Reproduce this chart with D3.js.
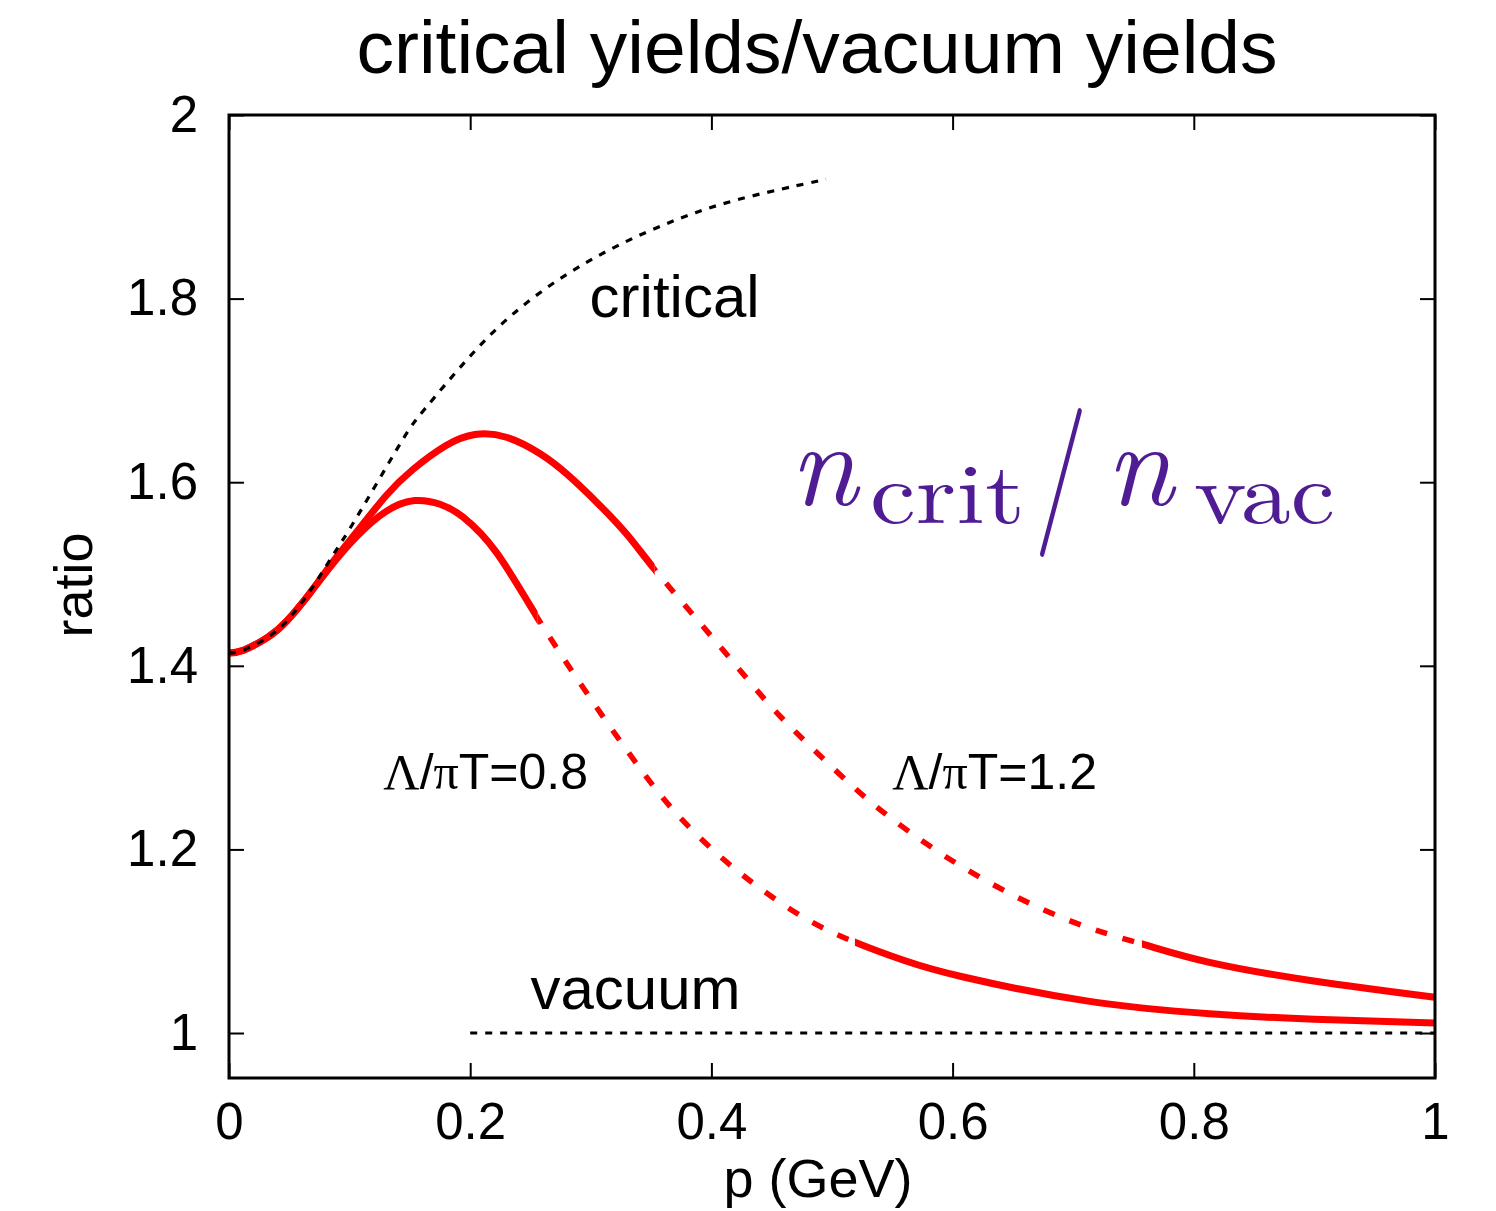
<!DOCTYPE html>
<html>
<head>
<meta charset="utf-8">
<script src="https://cdn.jsdelivr.net/npm/d3@7"></script>
<style>
  body { margin: 0; background: #fff; }
  text { font-family: "Liberation Sans", Arial, sans-serif; fill: #000; }
</style>
</head>
<body>
<div id="chart"></div>
<script>
// ticks
const xTicks = [0, 0.2, 0.4, 0.6, 0.8, 1];
const yTicks = [1, 1.2, 1.4, 1.6, 1.8, 2];

// critical yields (black dotted)
const criticalP = [0, 0.012, 0.032, 0.048, 0.067, 0.086, 0.106, 0.142, 0.1625, 0.197, 0.2344, 0.2772, 0.3228, 0.3712, 0.4196, 0.4707, 0.495];
const criticalRatio = [1.414, 1.417, 1.431, 1.449, 1.481, 1.52, 1.562, 1.642, 1.68, 1.733, 1.782, 1.824, 1.858, 1.886, 1.907, 1.923, 1.93];

// vacuum reference
const vacuumP = [0.2, 1];
const vacuumRatio = [1, 1];

// Lambda/piT = 0.8
const lam08P = [0, 0.012, 0.032, 0.048, 0.067, 0.086, 0.106, 0.13, 0.154, 0.175, 0.194, 0.222, 0.256, 0.301, 0.341, 0.371, 0.405, 0.44, 0.479, 0.519, 0.56, 0.609, 0.711, 0.813, 0.9, 1];
const lam08Ratio = [1.414, 1.417, 1.431, 1.449, 1.479, 1.511, 1.541, 1.568, 1.58, 1.576, 1.562, 1.523, 1.452, 1.362, 1.288, 1.239, 1.195, 1.158, 1.124, 1.099, 1.079, 1.061, 1.035, 1.021, 1.015, 1.011];
const lam08Dashed = [0.256, 0.519];

// Lambda/piT = 1.2
const lam12P = [0, 0.012, 0.032, 0.048, 0.067, 0.086, 0.106, 0.13, 0.1526, 0.18, 0.204, 0.23, 0.258, 0.28, 0.305, 0.33, 0.353, 0.389, 0.42, 0.45, 0.483, 0.517, 0.552, 0.613, 0.692, 0.757, 0.813, 0.898, 1];
const lam12Ratio = [1.414, 1.417, 1.431, 1.449, 1.479, 1.513, 1.546, 1.585, 1.614, 1.64, 1.652, 1.649, 1.631, 1.609, 1.578, 1.543, 1.505, 1.449, 1.401, 1.355, 1.311, 1.269, 1.231, 1.177, 1.125, 1.097, 1.077, 1.057, 1.039];
const lam12Dashed = [0.353, 0.757];

const W = 1496, H = 1211;
const margin = { top: 115, right: 61, bottom: 133, left: 229 };
const width = W - margin.left - margin.right,
  height = H - margin.top - margin.bottom;

const svg = d3
  .select("#chart")
  .append("svg")
  .attr("width", W)
  .attr("height", H);

const g = svg.append("g").attr("transform", `translate(${margin.left},${margin.top})`);

const x = d3.scaleLinear().domain([0, 1]).range([0, width]);
const y = d3.scaleLinear().domain([0.951, 2]).range([height, 0]);

// axes (ticks pointing inward)
const fmt = (d) => (d === 0 || d === 1 || d === 2 ? d3.format("d")(d) : d3.format(".1f")(d));
const axBottom = g.append("g").attr("transform", `translate(0,${height})`)
  .call(d3.axisBottom(x).tickValues(xTicks).tickFormat(fmt).tickSizeInner(-15).tickSizeOuter(0).tickPadding(25));
const axLeft = g.append("g")
  .call(d3.axisLeft(y).tickValues(yTicks).tickFormat(fmt).tickSizeInner(-15).tickSizeOuter(0).tickPadding(31));
const axTop = g.append("g")
  .call(d3.axisTop(x).tickValues(xTicks).tickFormat("").tickSizeInner(-15).tickSizeOuter(0));
const axRight = g.append("g").attr("transform", `translate(${width},0)`)
  .call(d3.axisRight(y).tickValues(yTicks).tickFormat("").tickSizeInner(-15).tickSizeOuter(0));

[axBottom, axLeft, axTop, axRight].forEach((a) => {
  a.select(".domain").remove();
  a.selectAll("line").attr("stroke", "#000").attr("stroke-width", 2);
  a.selectAll("text").style("font-size", "51px").attr("fill", "#000");
});

const line = d3.line()
  .x((d) => x(d.p))
  .y((d) => y(d.r))
  .curve(d3.curveNatural);

const toPoints = (ps, rs) => ps.map((p, i) => ({ p: p, r: rs[i] }));

// red curves: solid - dashed - solid, one path clipped into pieces
const defs = svg.append("defs");
const drawRed = (id, ps, rs, dashed) => {
  const d = line(toPoints(ps, rs));
  const a = x(dashed[0]), b = x(dashed[1]);
  const solidClip = defs.append("clipPath").attr("id", id + "-solid");
  solidClip.append("rect").attr("x", -20).attr("y", -50).attr("width", a + 20).attr("height", height + 100);
  solidClip.append("rect").attr("x", b).attr("y", -50).attr("width", width - b + 20).attr("height", height + 100);
  defs.append("clipPath").attr("id", id + "-dash")
    .append("rect").attr("x", a).attr("y", -50).attr("width", b - a).attr("height", height + 100);

  g.append("path").attr("d", d).attr("clip-path", `url(#${id}-solid)`)
    .attr("fill", "none").attr("stroke", "#ff0000").attr("stroke-width", 7);
  g.append("path").attr("d", d).attr("clip-path", `url(#${id}-dash)`)
    .attr("fill", "none").attr("stroke", "#ff0000").attr("stroke-width", 5.5)
    .attr("stroke-dasharray", "12 16");
};
drawRed("lam08", lam08P, lam08Ratio, lam08Dashed);
drawRed("lam12", lam12P, lam12Ratio, lam12Dashed);

// critical & vacuum (drawn over the red lines)
g.append("path")
  .attr("d", line(toPoints(criticalP, criticalRatio)))
  .attr("fill", "none").attr("stroke", "#000").attr("stroke-width", 3.2)
  .attr("stroke-dasharray", "7 8");
g.append("path")
  .attr("d", line(toPoints(vacuumP, vacuumRatio)))
  .attr("fill", "none").attr("stroke", "#000").attr("stroke-width", 3.2)
  .attr("stroke-dasharray", "7 8");

// frame
g.append("rect").attr("x", 0).attr("y", 0).attr("width", width).attr("height", height)
  .attr("fill", "none").attr("stroke", "#000").attr("stroke-width", 3);

// labels
svg.append("text").attr("x", 817).attr("y", 73).attr("text-anchor", "middle")
  .style("font-size", "75px").text("critical yields/vacuum yields");
svg.append("text").attr("transform", "translate(92,585) rotate(-90)").attr("text-anchor", "middle")
  .style("font-size", "54px").text("ratio");
svg.append("text").attr("x", 818).attr("y", 1197).attr("text-anchor", "middle")
  .style("font-size", "54px").text("p (GeV)");

g.append("text").attr("x", x(0.299)).attr("y", y(1.78)).style("font-size", "60px").text("critical");
g.append("text").attr("x", x(0.25)).attr("y", y(1.026)).style("font-size", "60px").text("vacuum");

const lamLabel = (px, py, val) => {
  const t = g.append("text").attr("x", x(px)).attr("y", y(py)).style("font-size", "50px");
  t.append("tspan").style("font-family", "'Liberation Serif', serif").text("Λ");
  t.append("tspan").text("/");
  t.append("tspan").style("font-family", "'Liberation Serif', serif").text("π");
  t.append("tspan").text("T=" + val);
};
lamLabel(0.128, 1.266, "0.8");
lamLabel(0.55, 1.266, "1.2");

// n_crit / n_vac
const purple = "#4f1c94";
const serif = "'Latin Modern Roman', 'DejaVu Serif', 'Liberation Serif', serif";
const ann = svg.append("g");
ann.append("text").attr("x", 790).attr("y", 505).style("font-family", serif).style("font-style", "italic")
  .style("font-size", "120px").style("fill", purple).text("n");
ann.append("text").attr("x", 870).attr("y", 523).style("font-family", serif)
  .style("font-size", "86px").style("fill", purple).attr("textLength", 155).attr("lengthAdjust", "spacingAndGlyphs").text("crit");
ann.append("text").attr("x", 1034).attr("y", 520).style("font-family", serif)
  .style("font-size", "150px").style("fill", purple).attr("textLength", 54).attr("lengthAdjust", "spacingAndGlyphs").text("/");
ann.append("text").attr("x", 1106).attr("y", 505).style("font-family", serif).style("font-style", "italic")
  .style("font-size", "120px").style("fill", purple).text("n");
ann.append("text").attr("x", 1194).attr("y", 523).style("font-family", serif)
  .style("font-size", "86px").style("fill", purple).attr("textLength", 141).attr("lengthAdjust", "spacingAndGlyphs").text("vac");
</script>
</body>
</html>
